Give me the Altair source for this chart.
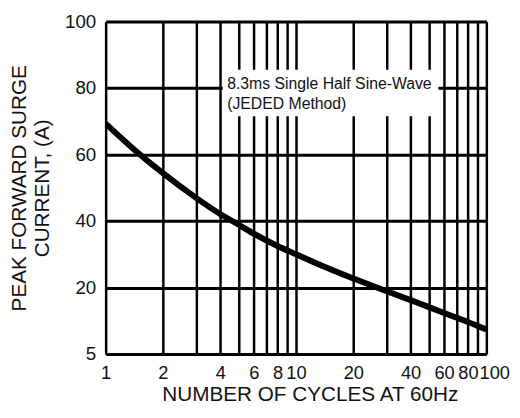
import altair as alt
import pandas as pd

# Curve (x: cycles at 60 Hz, y: peak forward surge current)
cycles = [1, 1.4, 2, 3, 4, 5, 6, 8, 10, 14, 20, 30, 40, 50, 60, 70, 80, 90, 100]
current = [69.3, 61.7, 54.4, 46.9, 42.1, 38.9, 36.2, 32.5, 30.0, 26.3, 22.7, 18.9, 16.2,
           14.1, 12.35, 10.9, 9.65, 8.45, 7.35]

x_grid_values = [1, 2, 3, 4, 5, 6, 7, 8, 9, 10, 20, 30, 40, 50, 60, 70, 80, 90, 100]
x_label_values = [1, 2, 4, 6, 8, 10, 20, 40, 60, 80, 100]
y_tick_values = [0, 20, 40, 60, 80, 100]
y_tick_labels = ["5", "20", "40", "60", "80", "100"]

note_lines = ["8.3ms Single Half Sine-Wave", "(JEDED Method)"]
note_line_y = [81.3, 75.3]
note_box = {"x": 4.12, "x2": 56, "y": 71.5, "y2": 85.5}
note_text_x = 4.35

FONT = "Liberation Sans"

curve_df = pd.DataFrame({"cycles": cycles, "current": current})
note_df = pd.DataFrame({"text": note_lines, "y": note_line_y, "x": [note_text_x] * len(note_lines)})
box_df = pd.DataFrame([note_box])

x_scale = alt.Scale(type="log", domain=[1, 100], nice=False)
y_scale = alt.Scale(domain=[0, 100], nice=False, zero=False)

label_list = ",".join(str(v) for v in x_label_values)
y_label_expr = " : ".join(
    f"datum.value == {v} ? '{l}'" for v, l in zip(y_tick_values, y_tick_labels)
) + " : ''"

x_axis = alt.Axis(
    values=x_grid_values,
    labelExpr=f"indexof([{label_list}], datum.value) >= 0 ? '' + datum.value : ''",
    title="NUMBER OF CYCLES AT 60Hz",
    ticks=False,
    domain=False,
    grid=True,
    gridColor="black",
    gridWidth=2.5,
    gridOpacity=1,
    labelOverlap=False,
    labelFlush=False,
    labelBound=False,
    labelFont=FONT,
    labelFontSize=18.5,
    labelColor="#111",
    labelPadding=10,
    labelOffset={"condition": {"test": "datum.value == 100", "value": 8}, "value": 0},
    titleFont=FONT,
    titleFontSize=21,
    titleFontWeight="normal",
    titleColor="#111",
    titleX=207,
    titleY=41.5,
    titleBaseline="middle",
)

y_axis = alt.Axis(
    values=y_tick_values,
    labelExpr=y_label_expr,
    title=["PEAK FORWARD SURGE", "CURRENT, (A)"],
    ticks=False,
    domain=False,
    grid=True,
    gridColor="black",
    gridWidth=3,
    gridOpacity=1,
    labelOverlap=False,
    labelFlush=False,
    labelFont=FONT,
    labelFontSize=19,
    labelColor="#111",
    labelPadding=10,
    titleFont=FONT,
    titleFontSize=21,
    titleFontWeight="normal",
    titleColor="#111",
    titleLineHeight=23,
    titleX=-87,
    titleY=168.5,
    titleBaseline="middle",
    titleAngle=-90,
)

line = alt.Chart(curve_df).mark_line(
    color="black", strokeWidth=6, interpolate="monotone", clip=True
).encode(
    x=alt.X("cycles:Q", scale=x_scale, axis=x_axis),
    y=alt.Y("current:Q", scale=y_scale, axis=y_axis),
)

box = alt.Chart(box_df).mark_rect(fill="white").encode(
    x=alt.X("x:Q", scale=x_scale),
    x2="x2:Q",
    y=alt.Y("y:Q", scale=y_scale),
    y2="y2:Q",
)

note = alt.Chart(note_df).mark_text(
    align="left", baseline="middle", font=FONT, fontSize=16, color="#111"
).encode(
    x=alt.X("x:Q", scale=x_scale),
    y=alt.Y("y:Q", scale=y_scale),
    text="text:N",
)

chart = alt.layer(box, note, line).properties(
    width=386,
    height=337,
    autosize=alt.AutoSizeParams(type="none"),
    padding={"left": 99, "top": 11, "right": 26, "bottom": 54},
).configure_view(
    stroke="black", strokeWidth=3
).configure(background="white")

chart.save("out.html", embed_options={"renderer": "svg", "actions": False})
